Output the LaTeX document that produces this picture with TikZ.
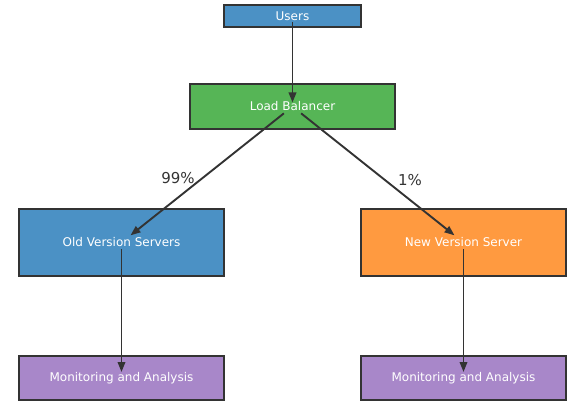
\documentclass[tikz,border=0pt]{standalone}
\usepackage{fontspec}
\setmainfont{DejaVu Sans}
\usetikzlibrary{arrows.meta}
\definecolor{cblue}{HTML}{4B91C5}
\definecolor{cgreen}{HTML}{56B556}
\definecolor{corange}{HTML}{FF9A40}
\definecolor{cpurple}{HTML}{A887C9}
\definecolor{cedge}{HTML}{333333}
\begin{document}
\begin{tikzpicture}[x=1pt,y=-1pt,
  box/.style={draw=cedge, line width=1.8pt, text=white, font=\fontsize{12}{14}\selectfont, inner sep=0pt},
  arr/.style={draw=cedge, line width=1.9pt, -{Triangle[length=10pt,width=7.5pt]}},
  pct/.style={text=cedge, font=\fontsize{15}{18}\selectfont}]
\useasboundingbox (0,0) rectangle (581,409);
\node[box, fill=cblue, minimum width=137pt, minimum height=22pt] (users) at (292.5,16) {Users};
\node[box, fill=cgreen, minimum width=205pt, minimum height=45pt] (lb) at (292.5,106.5) {Load Balancer};
\node[box, fill=cblue, minimum width=205pt, minimum height=67pt] (old) at (121.5,242.5) {Old Version Servers};
\node[box, fill=corange, minimum width=205pt, minimum height=67pt] (new) at (463.5,242.5) {New Version Server};
\node[box, fill=cpurple, minimum width=205pt, minimum height=44pt] (mon1) at (121.5,378) {Monitoring and Analysis};
\node[box, fill=cpurple, minimum width=205pt, minimum height=44pt] (mon2) at (463.5,378) {Monitoring and Analysis};
\draw[arr, shorten <=6pt, shorten >=4pt] (users.center) -- (lb.center);
\draw[arr, shorten <=11pt, shorten >=11.5pt] (lb.center) -- (old.center);
\draw[arr, shorten <=11pt, shorten >=11.5pt] (lb.center) -- (new.center);
\draw[arr, shorten <=6.5pt, shorten >=6pt] (old.center) -- (mon1.center);
\draw[arr, shorten <=6.5pt, shorten >=6pt] (new.center) -- (mon2.center);
\node[pct] (p99) at (178,178) {99\%};
\node[pct] (p1) at (410,180) {1\%};
\end{tikzpicture}
\end{document}
